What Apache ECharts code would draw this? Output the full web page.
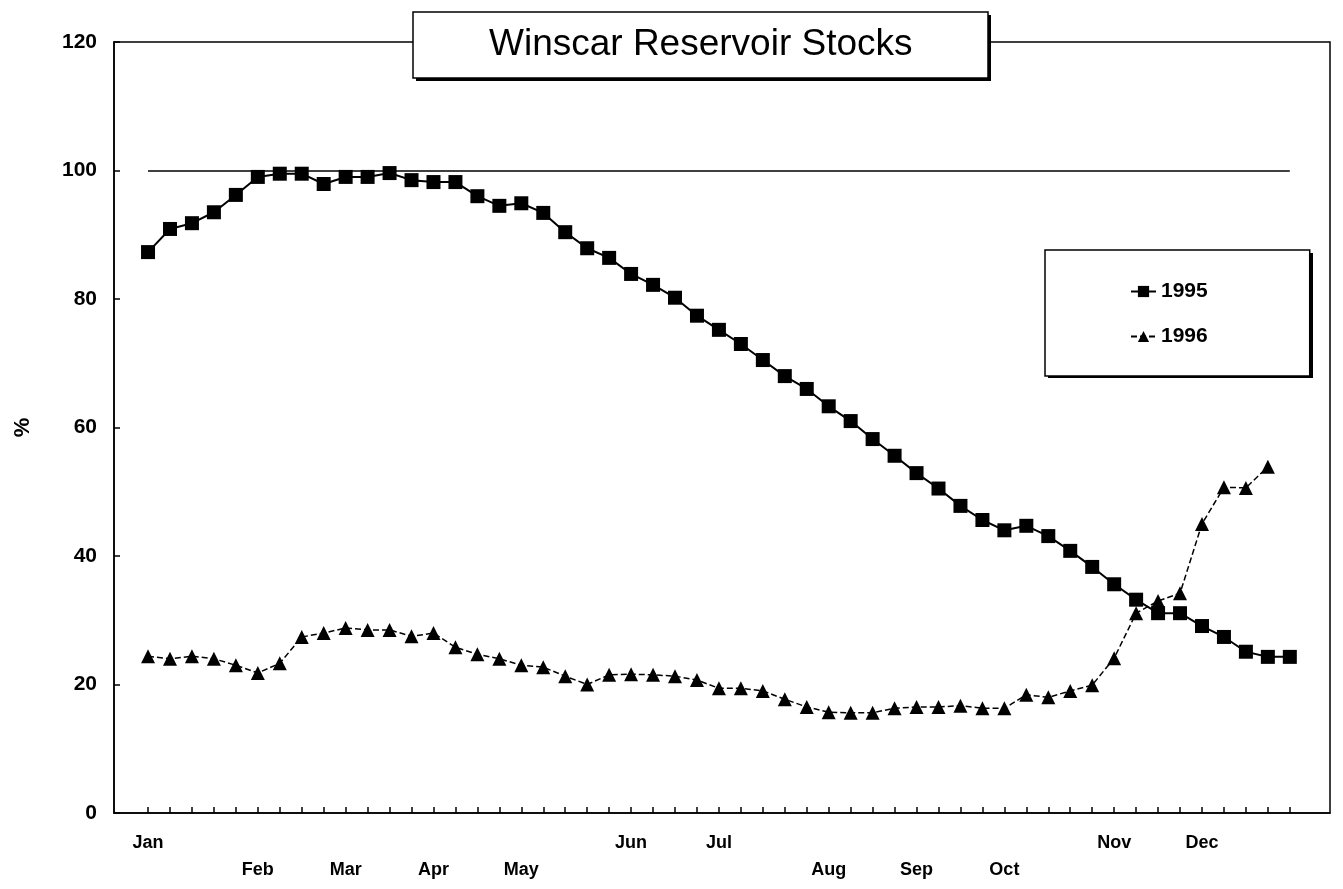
<!DOCTYPE html>
<html>
<head>
<meta charset="utf-8">
<script src="https://cdn.jsdelivr.net/npm/echarts@6/dist/echarts.min.js"></script>
<style>
html,body{margin:0;padding:0;background:#fff;}
#chart{width:1343px;height:889px;}
</style>
</head>
<body>
<div id="chart"></div>
<script>
// ---- data ----
var titleText = 'Winscar Reservoir Stocks';
var seriesNames = ['1995', '1996'];
var weekIndex = [];
for (var w = 0; w < 53; w++) weekIndex.push(w);
var monthNames = ['Jan','Feb','Mar','Apr','May','Jun','Jul','Aug','Sep','Oct','Nov','Dec'];
var monthWeek  = [0, 5, 9, 13, 17, 22, 26, 31, 35, 39, 44, 48];
var lowerRowMonths = ['Feb','Mar','Apr','May','Aug','Sep','Oct'];
var yTicks = [0, 20, 40, 60, 80, 100, 120];
var fullLevel = 100;

var stock1995 = [87.3, 90.9, 91.8, 93.5, 96.2, 99.0, 99.5, 99.5, 97.9, 99.0,
                 99.0, 99.6, 98.5, 98.2, 98.2, 96.0, 94.5, 94.9, 93.4, 90.4,
                 87.9, 86.4, 83.9, 82.2, 80.2, 77.4, 75.2, 73.0, 70.5, 68.0,
                 66.0, 63.3, 61.0, 58.2, 55.6, 52.9, 50.5, 47.8, 45.6, 44.0,
                 44.7, 43.1, 40.8, 38.3, 35.6, 33.2, 31.1, 31.1, 29.1, 27.4,
                 25.1, 24.3, 24.3];
var stock1996 = [24.4, 24.0, 24.4, 24.0, 23.0, 21.8, 23.3, 27.4, 28.0, 28.8,
                 28.5, 28.5, 27.5, 28.0, 25.8, 24.7, 24.0, 23.0, 22.7, 21.3,
                 20.0, 21.5, 21.6, 21.5, 21.3, 20.7, 19.4, 19.4, 19.0, 17.7,
                 16.5, 15.7, 15.6, 15.6, 16.3, 16.5, 16.5, 16.7, 16.3, 16.3,
                 18.4, 18.0, 19.0, 19.9, 24.1, 31.1, 33.0, 34.2, 45.0, 50.7,
                 50.6, 53.9];

function pairs(arr){ return arr.map(function(v,i){ return [weekIndex[i], v]; }); }

var chart = echarts.init(document.getElementById('chart'), null, {renderer:'canvas'});
var font = '"Liberation Sans", Arial, sans-serif';

chart.setOption({
  backgroundColor: '#fff',
  animation: false,
  graphic: [
    // drop shadows of title box and legend box
    { type: 'rect', z: 5, silent: true, shape: { x: 416, y: 15, width: 575, height: 66 }, style: { fill: '#000' } },
    { type: 'rect', z: 5, silent: true, shape: { x: 1048, y: 253, width: 265, height: 125 }, style: { fill: '#000' } }
  ],
  title: {
    text: titleText,
    left: 413, top: 12,
    padding: [14, 76, 14, 76],
    backgroundColor: '#fff',
    borderColor: '#000', borderWidth: 1.5,
    textStyle: { fontFamily: font, fontSize: 37, fontWeight: 'normal', color: '#000', lineHeight: 38 },
    z: 10
  },
  legend: {
    data: seriesNames,
    orient: 'vertical',
    left: 1045, top: 250,
    padding: [31, 102, 29, 85],
    itemGap: 24,
    itemWidth: 25, itemHeight: 14,
    backgroundColor: '#fff',
    borderColor: '#000', borderWidth: 1.5,
    textStyle: { fontFamily: font, fontSize: 21, fontWeight: 'bold', color: '#000' },
    z: 10
  },
  grid: {
    left: 114, right: 13, top: 42, bottom: 76,
    show: true, borderColor: '#000', borderWidth: 1.5, backgroundColor: 'transparent'
  },
  xAxis: {
    type: 'value',
    min: -1.55, max: 53.83,
    splitLine: { show: false },
    axisLine: { show: true, onZero: false, lineStyle: { color: '#000', width: 1.5 } },
    axisTick: { show: true, inside: true, length: 6, customValues: weekIndex, lineStyle: { color: '#000', width: 1.5 } },
    axisLabel: {
      customValues: monthWeek,
      margin: 17,
      fontFamily: font, fontSize: 18, fontWeight: 'bold', color: '#000',
      lineHeight: 27,
      formatter: function (v) {
        var idx = monthWeek.indexOf(Math.round(v));
        if (idx < 0) return '';
        var name = monthNames[idx];
        return lowerRowMonths.indexOf(name) >= 0 ? '\n' + name : name;
      }
    }
  },
  yAxis: {
    type: 'value',
    min: yTicks[0], max: yTicks[yTicks.length - 1], interval: 20,
    name: '%', nameLocation: 'middle', nameGap: 80, nameRotate: 90,
    nameTextStyle: { fontFamily: font, fontSize: 22, fontWeight: 'bold', color: '#000' },
    splitLine: { show: false },
    axisLine: { show: true, onZero: false, lineStyle: { color: '#000', width: 1.5 } },
    axisTick: { show: true, inside: true, length: 6, lineStyle: { color: '#000', width: 1.5 } },
    axisLabel: { margin: 17, fontFamily: font, fontSize: 21, fontWeight: 'bold', color: '#000' }
  },
  series: [
    {
      name: seriesNames[0], type: 'line',
      data: pairs(stock1995),
      symbol: 'rect', symbolSize: 14,
      itemStyle: { color: '#000' },
      lineStyle: { color: '#000', width: 2 },
      markLine: {
        silent: true, symbol: 'none', label: { show: false },
        lineStyle: { color: '#000', width: 1.5, type: 'solid' },
        data: [[{ coord: [weekIndex[0], fullLevel] }, { coord: [weekIndex[52], fullLevel] }]]
      },
      z: 3
    },
    {
      name: seriesNames[1], type: 'line',
      data: pairs(stock1996),
      symbol: 'triangle', symbolSize: 14,
      itemStyle: { color: '#000' },
      lineStyle: { color: '#000', width: 1.5, type: [6, 3] },
      z: 4
    }
  ]
});
</script>
</body>
</html>
